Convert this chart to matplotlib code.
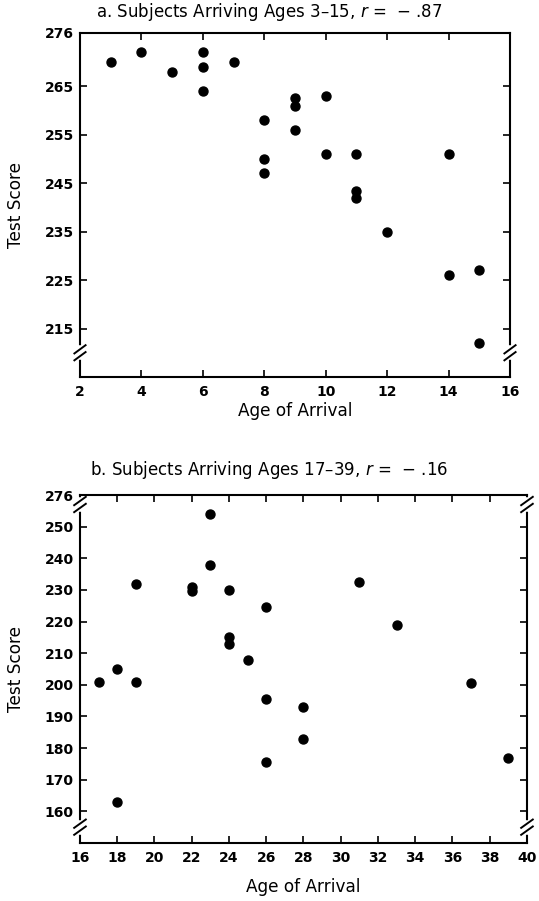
import numpy as np
import matplotlib
matplotlib.use('Agg')
import matplotlib.pyplot as plt

plt.rcParams['font.family'] = 'DejaVu Sans'

# panel a: arrived ages 3-15
age_a = [3, 4, 5, 6, 6, 6, 7, 8, 8, 8, 9, 9, 9, 10, 10, 11, 11, 11, 12, 14, 14, 15, 15]
score_a = [270, 272, 268, 272, 269, 264, 270, 258, 250, 247, 262.5, 261, 256, 263, 251,
           251, 243.3, 242, 235, 251, 226, 227, 212]

# panel b: arrived ages 17-39
age_b = [17, 18, 18, 19, 19, 22, 22, 23, 23, 24, 24, 24, 25, 26, 26, 26, 28, 28, 31, 33, 37, 39]
score_b = [201, 205, 163, 232, 201, 231, 229.5, 254, 238, 230, 215, 213, 208, 224.5, 195.5, 175.5,
           193, 183, 232.5, 219, 200.5, 177]

xticks_a = list(range(2, 17, 2))
yticks_a = [215, 225, 235, 245, 255, 265, 276]
xticks_b = list(range(16, 41, 2))
yticks_b = [160, 170, 180, 190, 200, 210, 220, 230, 240, 250, 260]
ylabels_b = ['160', '170', '180', '190', '200', '210', '220', '230', '240', '250', '276']

fig = plt.figure(figsize=(5.39, 9.01), dpi=100)
ax1 = fig.add_axes([0.1484, 0.5816, 0.7978, 0.3818])
ax2 = fig.add_axes([0.1484, 0.0644, 0.8293, 0.3862])


def style(ax, xpad):
    for s in ax.spines.values():
        s.set_linewidth(1.5)
    ax.tick_params(direction='in', length=5, width=1.2, top=True, right=True, labelsize=10)
    ax.tick_params(axis='x', pad=6)
    ax.tick_params(axis='y', pad=4.5)
    for lab in ax.get_xticklabels() + ax.get_yticklabels():
        lab.set_fontweight('bold')
    ax.set_xlabel('Age of Arrival', fontsize=12.2, labelpad=xpad)
    ax.set_ylabel('Test Score', fontsize=12.2, labelpad=14)


def break_marks(ax, yval):
    y0, y1 = ax.get_ylim()
    yf = (yval - y0) / (y1 - y0)
    for xf in (0, 1):
        ax.plot([xf, xf], [yf - 0.013, yf + 0.013], color='white', lw=4,
                transform=ax.transAxes, clip_on=False, zorder=5)
        for off in (-0.01, 0.01):
            ax.plot([xf - 0.013, xf + 0.013], [yf + off - 0.012, yf + off + 0.012],
                    color='black', lw=1.4, transform=ax.transAxes, clip_on=False, zorder=6)


def centered_title(ax, text, pad_px):
    # title is centred on the page, not on the axes box
    top = ax.get_position().y1
    fig.text(0.5, top + pad_px / fig.bbox.height, text, ha='center', va='baseline', fontsize=12)


ax1.scatter(age_a, score_a, s=42, color='black', zorder=3)
ax1.set_xlim(2, 16)
ax1.set_ylim(205, 276)
ax1.set_xticks(xticks_a)
ax1.set_yticks(yticks_a)
centered_title(ax1, 'a. Subjects Arriving Ages 3\u201315, $r$ =  \u2212 .87', 16)
style(ax1, 2)
break_marks(ax1, 210)

ax2.scatter(age_b, score_b, s=42, color='black', zorder=3)
ax2.set_xlim(16, 40)
ax2.set_ylim(150, 260)
ax2.set_xticks(xticks_b)
ax2.set_yticks(yticks_b)
ax2.set_yticklabels(ylabels_b)
centered_title(ax2, 'b. Subjects Arriving Ages 17\u201339, $r$ =  \u2212 .16', 20)
style(ax2, 9)
break_marks(ax2, 257)
break_marks(ax2, 155)

fig.savefig('out.png', dpi=100)
